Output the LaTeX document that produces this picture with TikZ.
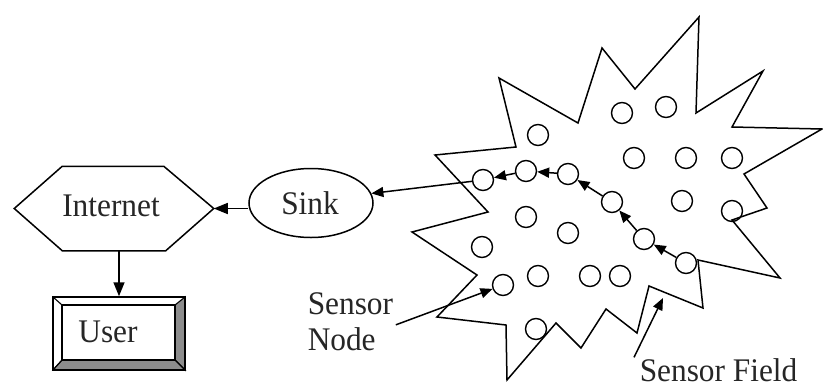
\documentclass[tikz,border=0pt]{standalone}
\usepackage{fontspec}
\setmainfont{Liberation Serif}[FakeStretch=0.95]
\usetikzlibrary{arrows.meta,shapes.geometric,calc}

\begin{document}
\begin{tikzpicture}[x=1pt,y=-1pt,
  line width=1.5pt,
  lbl/.style={font=\fontsize{33}{36}\selectfont, inner sep=0pt, text=black!85},
  sensor/.style={circle, draw, line width=1.4pt, minimum size=21pt, inner sep=0pt},
  arr/.style={-{Triangle[length=12pt,width=10pt]}},
  bigarr/.style={-{Triangle[length=14pt,width=11pt]}},
  bevel/.style={fill=black!45, line width=1.1pt},
]
\useasboundingbox (0,0) rectangle (823,389);

% sensor field outline
\filldraw[fill=white, line join=miter]
  (435,155) -- (516,147) -- (499,78) -- (578,123) -- (602,48) -- (635,89)
  -- (699,17) -- (696,113) -- (763,71) -- (732,127) -- (822,129) -- (744,174)
  -- (767,208) -- (732,220) -- (780,278) -- (698,260) -- (703,308) -- (649,286)
  -- (637,333) -- (606,309) -- (581,348) -- (556,323) -- (507,380) -- (506,325)
  -- (437,317) -- (477,275) -- (412,232) -- (488,212) -- cycle;

% sensor nodes
\foreach \n/\p in {1/{538,135},2/{622,113},3/{666,107},4/{634,158},5/{686,158},
  6/{732,158},7/{483,180},8/{526,171},9/{568,174},10/{682,201},11/{732,211},
  12/{612,202},13/{526,217},14/{568,233},15/{644,239},16/{482,247},17/{686,263},
  18/{503,285},19/{538,276},20/{590,276},21/{620,276},22/{536,329}}
  \node[sensor] (c\n) at (\p) {};

% Internet hexagon
\node[minimum width=198pt, minimum height=83pt, inner sep=0pt] (internet) at (114,208.5) {};
\draw[line join=miter] (internet.west) -- ([xshift=48pt]internet.north west)
  -- ([xshift=-50pt]internet.north east) -- (internet.east)
  -- ([xshift=-48pt]internet.south east) -- ([xshift=48pt]internet.south west) -- cycle;
\node[lbl, anchor=base] (internettext) at (111,216) {Internet};

% sink
\node[ellipse, draw, minimum width=124pt, minimum height=69pt, inner sep=0pt] (sink) at (311,203) {};
\node[lbl, anchor=base] (sinktext) at (310,214) {Sink};

% user box with bevelled frame
\node[minimum width=132pt, minimum height=73pt, inner sep=0pt] (user) at (119,333.5) {};
\filldraw[bevel] (185,297) -- (185,370) -- (175,360) -- (175,305) -- cycle;
\filldraw[bevel] (53,370) -- (185,370) -- (175,360) -- (62,360) -- cycle;
\draw[line width=1.1pt] (53,297) -- (62,305);
\draw[line width=1.1pt] (53,370) -- (62,360);
\draw (53,297) rectangle (185,370);
\draw[line width=1.1pt] (62,305) rectangle (175,360);
\node[lbl, anchor=base] (usertext) at (108,342) {User};

% labels
\node[lbl, align=left, anchor=north west] (sn) at (307,292) {Sensor\\Node};
\node[lbl, anchor=base west] (sf) at (639,381) {Sensor Field};
\coordinate (fieldtip) at (663,298);

% connectors
\draw[bigarr] (sink.west |- internet.east) -- (internet.east);
\draw[bigarr] (internet.south -| user.north) -- (user.north);
\draw[arr] (c17) -- (c15);
\draw[arr] (c15) -- (c12);
\draw[arr] (c12) -- (c9);
\draw[arr] (c9) -- (c8);
\draw[arr] (c8) -- (c7);
\draw[arr] (c7) -- (sink.9);
\draw[arr] ($(sn.east)+(2,3)$) -- (c18);
\draw[arr] ($(sf.north west)+(-5,0)$) -- (fieldtip);
\end{tikzpicture}
\end{document}
